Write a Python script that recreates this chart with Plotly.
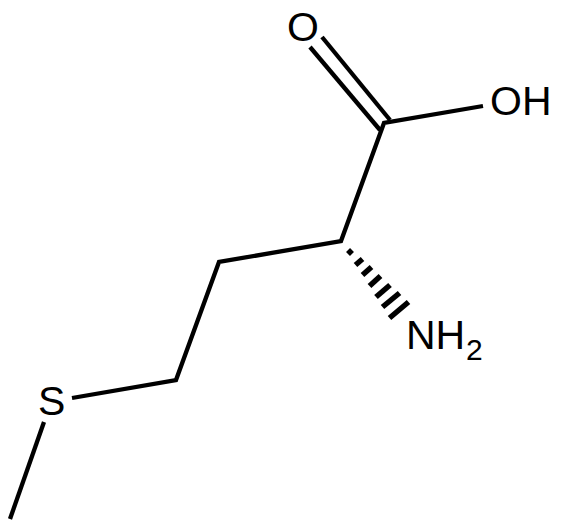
import plotly.graph_objects as go

# backbone in pixels (y goes down)
# with gaps where the bonds stop short of the labels
chain_x = [483, 384, 341, 219, 176, 72]
chain_y = [106, 123, 241, 262, 380, 398]

methyl_x = [44, 10]
methyl_y = [422, 519]

# the two lines of C=O
double_x = [390, 322, None, 380, 310]
double_y = [120, 37, None, 130, 47]

# hashed wedge down to NH2, one bar per row
hash_x0 = [348, 355.5, 362.5, 369.5, 376, 382.5, 389.5]
hash_y0 = [254, 265, 275, 286, 297, 307, 318]
hash_x1 = [352, 362.5, 371.5, 380.5, 390, 399.5, 408.5]
hash_y1 = [250, 259, 267, 276, 285, 293, 302]

labels = ["O", "OH", "S", "NH", "2"]
label_x = [302.5, 520.5, 51, 435.5, 474]
label_y = [27, 101, 401, 335, 349.5]
label_size = [41, 41, 41, 41, 30]

hash_x = []
hash_y = []
for i in range(len(hash_x0)):
    hash_x += [hash_x0[i], hash_x1[i], None]
    hash_y += [hash_y0[i], hash_y1[i], None]

fig = go.Figure()
for xs, ys in [(chain_x, chain_y), (methyl_x, methyl_y), (double_x, double_y)]:
    fig.add_trace(go.Scatter(x=xs, y=ys, mode="lines", line=dict(color="black", width=4.3), hoverinfo="skip"))
fig.add_trace(go.Scatter(x=hash_x, y=hash_y, mode="lines", line=dict(color="black", width=5.5), hoverinfo="skip"))

for i in range(len(labels)):
    fig.add_annotation(x=label_x[i], y=label_y[i], text=labels[i], showarrow=False,
                       font=dict(family="Liberation Sans", size=label_size[i], color="black"),
                       xanchor="center", yanchor="middle")

fig.update_layout(width=562, height=529, margin=dict(l=0, r=0, t=0, b=0),
                  showlegend=False, plot_bgcolor="white", paper_bgcolor="white")
fig.update_xaxes(range=[0, 562], visible=False)
fig.update_yaxes(range=[529, 0], visible=False)

fig.write_html("out.html", config={"displayModeBar": False},
               post_script="document.body.style.margin='0';")
